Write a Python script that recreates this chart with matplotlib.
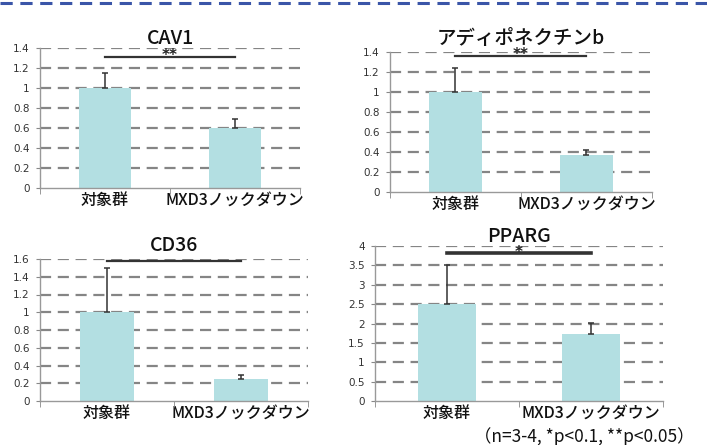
import matplotlib.pyplot as plt
import numpy as np

plt.rcParams['font.family'] = ['Noto Sans CJK JP', 'DejaVu Sans']

W, H = 707, 445

categories = ["対象群", "MXD3ノックダウン"]

titles = ["CAV1", "アディポネクチンb", "CD36", "PPARG"]
means = [[1.0, 0.60], [1.0, 0.37], [1.0, 0.25], [2.5, 1.72]]
errors = [[0.15, 0.09], [0.24, 0.05], [0.50, 0.04], [1.02, 0.30]]
ymax = [1.4, 1.4, 1.6, 4.0]
ystep = [0.2, 0.2, 0.2, 0.5]
sig_level = [1.31, 1.36, 1.58, 3.82]
sig_marks = ["**", "**", "", "*"]

# axes boxes in pixels: left, right, top (ymax), bottom (0)
boxes = [(40, 300, 48, 188), (390, 652, 52, 192), (40, 308, 259, 401), (375, 663, 246, 401)]
title_pad = [3.0, 5.5, 5.5, 2.5]
mark_lift = [0.01, 0.01, 0.0, 0.0]

BAR = "#b3dfe2"
GRID = "#858585"


def tick_text(v):
    if abs(v - round(v)) < 1e-9:
        return str(int(round(v)))
    return f"{v:g}"


fig = plt.figure(figsize=(W / 100, H / 100), dpi=100)

# blue dashed rule at the top
fig.add_artist(plt.Line2D([0, 1], [1 - 3 / H, 1 - 3 / H], color="#3a55a8", linewidth=2.2,
                          linestyle=(0, (4, 2.5)), transform=fig.transFigure))

for i, (l, r, t, b) in enumerate(boxes):
    ax = fig.add_axes([l / W, 1 - b / H, (r - l) / W, (b - t) / H])
    x = np.arange(len(categories))
    ax.bar(x, means[i], width=0.4, color=BAR, zorder=2)
    ax.errorbar(x, means[i], yerr=[np.zeros(2), errors[i]], fmt="none", ecolor="#333333",
                elinewidth=1.1, capsize=2.5, capthick=1.1, zorder=3)
    ax.set_xlim(-0.5, 1.5)
    ax.set_ylim(0, ymax[i])
    yt = np.arange(0, ymax[i] + 1e-9, ystep[i])
    ax.set_yticks(yt)
    ax.set_yticklabels([tick_text(v) for v in yt], fontsize=7.5, color="#333333", family="DejaVu Sans")
    ax.set_xticks(x)
    ax.set_xticklabels(categories, fontsize=11.5, color="#111111", fontweight="medium")
    ax.set_xticks([-0.5, 0.5, 1.5], minor=True)
    ax.tick_params(axis="x", which="major", length=0, pad=3)
    ax.tick_params(axis="x", which="minor", length=4, color="#888888")
    ax.tick_params(axis="y", length=3, color="#888888", pad=4.5)
    for s in ["top", "right"]:
        ax.spines[s].set_visible(False)
    for s in ["left", "bottom"]:
        ax.spines[s].set_color("#999999")
        ax.spines[s].set_linewidth(1)
    for v in yt[1:]:
        ax.axhline(v, color=GRID, linewidth=1.6, linestyle=(0, (5, 3)), zorder=1)
    ax.set_title(titles[i], fontsize=14, color="#111111", pad=title_pad[i], fontweight="medium")
    lw = 2.6 if i == 3 else 1.6
    ax.plot([0, 1], [sig_level[i], sig_level[i]], color="#333333", linewidth=lw, clip_on=False, zorder=4)
    if sig_marks[i]:
        ax.text(0.5, sig_level[i] + ymax[i] * mark_lift[i], sig_marks[i], ha="center", va="center",
                fontsize=11, fontweight="bold", color="#222222", family="DejaVu Sans", zorder=5)

fig.text(474 / W, 1 - 437 / H, "（n=3-4, *p<0.1, **p<0.05）", fontsize=12.5, va="center", ha="left",
         color="#111111")

fig.savefig("out.png", dpi=100)
